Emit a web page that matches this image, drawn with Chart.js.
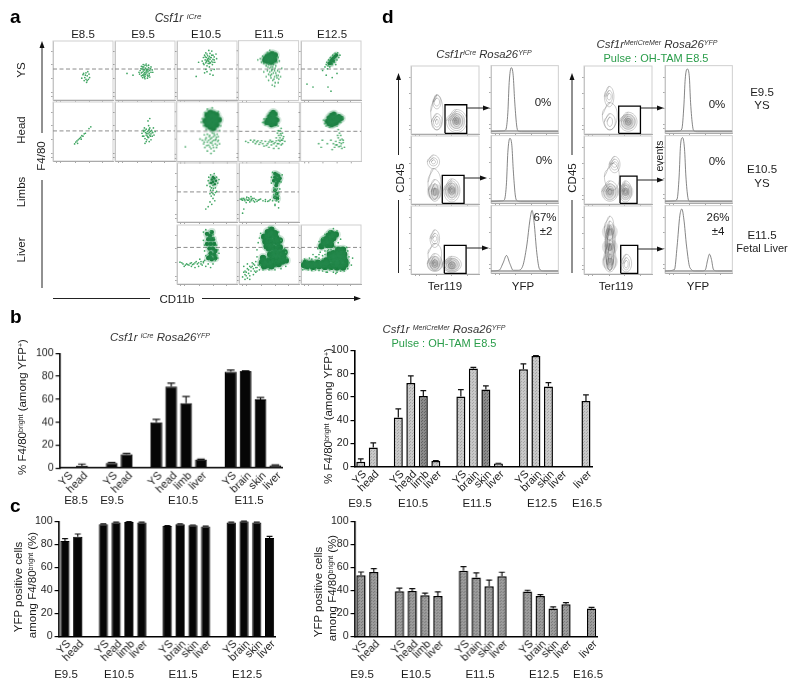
<!DOCTYPE html>
<html>
<head>
<meta charset="utf-8">
<title>Csf1r lineage tracing</title>
<script src="https://cdn.jsdelivr.net/npm/chart.js@4/dist/chart.umd.min.js"></script>
<style>
  html, body { margin: 0; background: #fff; }
  #page { position: relative; width: 800px; height: 689px; overflow: hidden; }
  #page canvas { position: absolute; }
  #notes { position: absolute; left: 0; top: 0; pointer-events: none; font-family: "Liberation Sans", Arial, sans-serif; fill: #1c1c1c; }
  #notes line { stroke: #222; stroke-width: 1; }
  #notes polygon { fill: #111; stroke: none; }
  .big { font-size: 19px; font-weight: bold; fill: #000; }
  .lab { font-size: 11.5px; text-anchor: middle; }
  .tit { font-size: 11px; text-anchor: middle; font-style: italic; fill: #333; }
  .green { font-size: 11px; text-anchor: middle; fill: #2a9d4a; }
  .sup { font-size: 7px; }
</style>
</head>
<body>
<div id="page">
<svg id="notes" width="800" height="689" style="z-index:5">
  <text class="big" x="10" y="23">a</text>
  <text class="big" x="10" y="323">b</text>
  <text class="big" x="10" y="512">c</text>
  <text class="big" x="382" y="23">d</text>

  <text class="tit" x="178" y="22" style="font-size:12px">Csf1r <tspan class="sup" dy="-3" style="font-size:8px">iCre</tspan></text>
  <text class="lab" x="83" y="38">E8.5</text>
  <text class="lab" x="143" y="38">E9.5</text>
  <text class="lab" x="206" y="38">E10.5</text>
  <text class="lab" x="269" y="38">E11.5</text>
  <text class="lab" x="332" y="38">E12.5</text>
  <text class="lab" transform="translate(25 70) rotate(-90)">YS</text>
  <text class="lab" transform="translate(25 130) rotate(-90)">Head</text>
  <text class="lab" transform="translate(25 192) rotate(-90)">Limbs</text>
  <text class="lab" transform="translate(25 250) rotate(-90)">Liver</text>
  <text class="lab" transform="translate(45 156) rotate(-90)">F4/80</text>
  <text class="lab" x="177" y="303">CD11b</text>
  <line x1="42" y1="133" x2="42" y2="46"/><polygon points="42,41 39.5,48 44.5,48"/>
  <line x1="42" y1="180" x2="42" y2="288"/>
  <line x1="53" y1="298.5" x2="150" y2="298.5"/>
  <line x1="202" y1="298.5" x2="356" y2="298.5"/><polygon points="361,298.5 354,296 354,301"/>

  <text class="tit" x="160" y="341" style="font-size:11.5px">Csf1r <tspan class="sup" dy="-3">iCre</tspan><tspan dy="3">  Rosa26</tspan><tspan class="sup" dy="-3">YFP</tspan></text>
  <text class="tit" x="444" y="333" style="font-size:11.3px">Csf1r <tspan class="sup" dy="-3">MeriCreMer</tspan><tspan dy="3"> Rosa26</tspan><tspan class="sup" dy="-3">YFP</tspan></text>
  <text class="green" x="444" y="347">Pulse : OH-TAM E8.5</text>
  <text class="lab" transform="translate(26 407) rotate(-90)">% F4/80<tspan class="sup" dy="-3">bright</tspan><tspan dy="3"> (among YFP</tspan><tspan class="sup" dy="-3">+</tspan><tspan dy="3">)</tspan></text>
  <text class="lab" transform="translate(332 416) rotate(-90)">% F4/80<tspan class="sup" dy="-3">bright</tspan><tspan dy="3"> (among YFP</tspan><tspan class="sup" dy="-3">+</tspan><tspan dy="3">)</tspan></text>
  <text class="lab" x="76" y="504">E8.5</text>
  <text class="lab" x="112" y="504">E9.5</text>
  <text class="lab" x="183" y="504">E10.5</text>
  <text class="lab" x="249" y="504">E11.5</text>
  <text class="lab" x="360" y="507">E9.5</text>
  <text class="lab" x="413" y="507">E10.5</text>
  <text class="lab" x="477" y="507">E11.5</text>
  <text class="lab" x="542" y="507">E12.5</text>
  <text class="lab" x="587" y="507">E16.5</text>

  <text class="lab" transform="translate(22 587) rotate(-90)">YFP positive cells</text>
  <text class="lab" transform="translate(36 585) rotate(-90)">among  F4/80<tspan class="sup" dy="-3">bright</tspan><tspan dy="3"> (%)</tspan></text>
  <text class="lab" transform="translate(322 592) rotate(-90)">YFP positive cells</text>
  <text class="lab" transform="translate(336 588) rotate(-90)">among  F4/80<tspan class="sup" dy="-3">bright</tspan><tspan dy="3"> (%)</tspan></text>
  <text class="lab" x="66" y="678">E9.5</text>
  <text class="lab" x="119" y="678">E10.5</text>
  <text class="lab" x="183" y="678">E11.5</text>
  <text class="lab" x="247" y="678">E12.5</text>
  <text class="lab" x="362" y="678">E9.5</text>
  <text class="lab" x="416" y="678">E10.5</text>
  <text class="lab" x="480" y="678">E11.5</text>
  <text class="lab" x="544" y="678">E12.5</text>
  <text class="lab" x="588" y="678">E16.5</text>

  <text class="tit" x="484" y="58" style="font-size:11.3px">Csf1r<tspan class="sup" dy="-3">iCre</tspan><tspan dy="3"> Rosa26</tspan><tspan class="sup" dy="-3">YFP</tspan></text>
  <text class="tit" x="657" y="48" style="font-size:11.5px">Csf1r<tspan class="sup" dy="-3">MeriCreMer</tspan><tspan dy="3"> Rosa26</tspan><tspan class="sup" dy="-3">YFP</tspan></text>
  <text class="green" x="656" y="62">Pulse : OH-TAM E8.5</text>

  <line x1="398.5" y1="155" x2="398.5" y2="78"/><polygon points="398.5,73 396,80 401,80"/>
  <line x1="398.5" y1="200" x2="398.5" y2="273"/>
  <line x1="572" y1="155" x2="572" y2="78"/><polygon points="572,73 569.5,80 574.5,80"/>
  <line x1="572" y1="200" x2="572" y2="273"/>
  <text class="lab" transform="translate(404 178) rotate(-90)">CD45</text>
  <text class="lab" transform="translate(576 178) rotate(-90)">CD45</text>
  <text class="lab" transform="translate(663 156) rotate(-90)" style="font-size:10.5px">events</text>
  <text class="lab" x="445" y="290">Ter119</text>
  <text class="lab" x="523" y="290">YFP</text>
  <text class="lab" x="616" y="290">Ter119</text>
  <text class="lab" x="698" y="290">YFP</text>
  <text class="lab" x="543" y="106">0%</text>
  <text class="lab" x="544" y="164">0%</text>
  <text class="lab" x="545" y="221">67%</text>
  <text class="lab" x="546" y="235">±2</text>
  <text class="lab" x="717" y="108">0%</text>
  <text class="lab" x="717" y="165">0%</text>
  <text class="lab" x="718" y="221">26%</text>
  <text class="lab" x="718" y="235">±4</text>
  <text class="lab" x="762" y="96">E9.5</text>
  <text class="lab" x="762" y="109">YS</text>
  <text class="lab" x="762" y="173">E10.5</text>
  <text class="lab" x="762" y="187">YS</text>
  <text class="lab" x="762" y="239">E11.5</text>
  <text class="lab" x="762" y="252" style="font-size:11px">Fetal Liver</text>

  <line x1="467" y1="108" x2="485" y2="108"/><polygon points="490,108 483,105.5 483,110.5"/>
  <line x1="464" y1="178" x2="482" y2="178"/><polygon points="487,178 480,175.5 480,180.5"/>
  <line x1="466" y1="248" x2="484" y2="248"/><polygon points="489,248 482,245.5 482,250.5"/>
  <line x1="641" y1="108" x2="659" y2="108"/><polygon points="664,108 657,105.5 657,110.5"/>
  <line x1="637" y1="180" x2="659" y2="180"/><polygon points="664,180 657,177.5 657,182.5"/>
  <line x1="638" y1="249" x2="659" y2="249"/><polygon points="664,249 657,246.5 657,251.5"/>
</svg>
</div>
<script>
// bar panels, null = gap between the age groups
const labelsBLeft = ['YS','head','','YS','head','','YS','head','limb','liver','','YS','brain','skin','liver']
const valuesBLeft = [0,2,null,4.5,12,null,40,71,56.5,7.5,null,84,84.5,60,2.5]
const errorsBLeft = [0,1.5,null,0.4,0.8,null,2.5,3,6,0.3,null,1.5,0.3,1.5,0.3]

const labelsBRight = ['YS','head','','YS','head','limb','liver','','YS','brain','skin','liver','','YS','brain','skin','liver','','liver']
const valuesBRight = [4.3,16.6,null,42.3,72,60.9,5.1,null,60.3,84.3,66.3,2.9,null,83.7,95.1,68.9,0,null,56.6]
const errorsBRight = [2.6,4,null,7.4,6,4.5,0.2,null,6,1.1,3.1,0.2,null,4.6,0.4,3.4,0,null,5.1]

const labelsCLeft = ['YS','head','','YS','head','limb','liver','','YS','brain','skin','liver','','YS','brain','skin','liver']
const valuesCLeft = [83,86.5,null,97.5,99,99.5,99,null,96,97.5,96.5,95.5,null,99,100,99,85.5]
const errorsCLeft = [2,2.5,null,0.3,0.2,0.2,0.2,null,0.3,0.3,0.3,0.3,null,0.2,0.1,0.2,1.5]

const labelsCRight = labelsBRight
const valuesCRight = [53.2,56,null,39.3,39.6,35.8,35.3,null,57,51.2,43.6,52.3,null,39,35.3,24.3,28,null,24.3]
const errorsCRight = [2.8,3,null,2.7,2,1.8,3.4,null,3.7,4,5.4,3.5,null,1.2,1.1,1.4,1.5,null,1.1]

// flow cytometry clouds, x,y pairs in percent of the panel
const gateLevels = { ys: 52.5, head: 51, limbs: 51, liver: 62 }
const flowTicks = [6,13,37,60,83]

const ysE85 = [50,43,53,38,55,46,57,41,59,35,52,33,56,30,60,44,48,37,54,42,58,48,61,38,55,35,51,45,57,33]
const ysE95 = [42,50,44,46,45,53,46,42,47,49,48,56,48,44,49,51,50,47,50,40,51,54,51,44,52,49,53,58,53,46,54,42,54,52,55,48,56,55,57,45,58,50,59,53,60,47,46,38,50,36,62,51,44,57,41,44,47,60,52,61,56,59,55,40,20,45,30,42,47,52,49,46,52,52,50,43,53,50,45,47,43,53,46,56,48,41,50,59,55,51,57,42,60,56,63,47,40,47,44,41,49,38,54,37,58,39]
const ysE105 = [42,66,44,72,45,60,46,76,47,68,48,63,48,80,49,72,50,58,50,67,51,75,52,62,52,70,53,84,53,66,54,74,54,56,55,69,55,79,56,63,57,72,58,66,58,83,59,60,60,76,60,69,62,73,63,64,65,78,66,70,46,46,50,48,55,44,57,50,60,42,62,52,36,64,32,40,48,52,44,62,47,73,50,78,52,66,54,62,56,72,58,76,60,64,62,68,49,65,53,71,55,64,51,69]
const ysE115Dense = [45,70,48,74,50,68,52,76,54,70,56,66,56,78,58,72,60,68,50,72,54,64,61,76,48,66,44,67]
const ysE115 = [32,68,36,70,38,64,40,74,42,62,46,58,48,80,50,60,52,84,54,56,56,52,58,60,60,50,62,58,64,64,66,72,68,66,48,50,50,44,52,48,54,38,55,44,57,34,58,46,60,40,61,30,62,46,64,38,65,50,66,42,68,48,70,40,72,54,50,34,56,26,60,24,66,30,46,40,42,48,53,42,55,50,59,36,63,42,67,36,61,54,57,56,52,54,49,56]
const ysE125Dense = [47,62,50,66,52,69,54,71,57,74,59,76,50,62,54,66]
const ysE125 = [40,56,42,60,43,64,45,58,46,68,48,56,49,72,52,60,53,76,56,64,57,79,60,68,61,80,63,72,65,76,44,53,58,60,10,27,20,22,50,15,45,22,52,38,42,42,60,45,36,50]

const headE85 = [38,32,40,34,42,36,44,38,46,40,48,43,50,42,52,46,54,47,60,55,63,58,36,29,41,30,47,37]
const headE95 = [45,47,47,52,48,42,49,56,50,38,51,48,52,44,52,54,53,36,54,50,54,42,55,46,56,60,56,52,56,40,57,33,57,48,58,44,58,56,59,50,60,36,60,46,61,52,62,42,63,48,64,56,65,44,67,50,55,68,58,72,50,30,48,50,46,42,50,52,53,47,55,40,57,54,59,42,62,49,52,33]
const headE105Dense = [50,62,50,70,50,78,55,58,55,66,55,74,55,82,60,56,60,64,60,72,60,80,65,62,65,70,65,78,69,70,47,68]
const headE105 = [40,66,42,72,44,60,46,82,48,54,50,88,58,90,68,84,72,60,70,52,45,45,48,40,50,46,52,36,52,28,54,44,55,32,56,22,57,40,58,48,59,28,60,36,61,18,62,44,63,30,64,38,65,24,66,46,67,34,68,42,70,30,44,30,46,24,50,18,56,14,38,38,14,25,60,42,58,34,55,38,53,42,50,33,47,37,49,27,54,25,57,31,60,24,63,36,66,28,68,36,42,36,45,33,61,47,65,41]
const headE115Dense = [48,70,51,66,51,76,54,62,54,72,54,80,57,66,57,74,57,83,60,64,60,72,60,80,63,70,46,66]
const headE115 = [40,66,42,72,44,62,65,60,68,52,70,56,72,48,70,44,68,40,66,36,72,36,74,42,76,34,64,30,60,32,56,34,52,36,48,30,44,34,40,30,36,32,32,35,28,30,24,33,20,36,16,32,12,34,62,26,58,22,66,22,54,28,70,28,50,24,42,26,72,30,64,48,66,44,62,40,68,34,62,35,58,30,54,33,50,33,46,27,38,35,34,29,30,33,26,36,70,36,66,30,65,52,69,47,73,39]
const headE125Dense = [44,68,47,64,47,74,51,62,51,70,51,78,55,64,55,72,55,80,59,66,59,74,63,70,63,76,67,73]
const headE125 = [40,64,38,70,42,60,48,58,66,66,70,74,60,60,62,54,64,48,66,44,68,38,70,32,62,40,58,34,60,28,66,26,72,24,56,24,36,36,30,30,34,24,44,30,50,36,54,30,64,32,68,22,52,20,65,36,61,44,67,30,58,28,63,25,70,36]

const limbsE105Dense = [57,66,58,72,60,68,62,74,63,64,65,70,60,76]
const limbsE105 = [50,62,52,70,53,76,54,66,55,60,56,80,58,58,60,62,62,82,64,58,66,76,68,66,70,72,56,54,58,50,60,54,62,46,64,50,57,44,60,40,63,36,55,34,58,30,52,26,48,22,66,52,60,48,55,48,61,57,57,58]
const limbsE115Dense = [58,70,60,76,60,82,63,66,63,72,63,80,66,70,66,78,68,74,62,62,60,54,63,48,60,42,64,40]
const limbsE115 = [54,66,54,76,56,84,70,68,72,80,58,58,60,54,62,48,64,56,66,44,60,42,62,36,64,38,66,50,68,56,58,46,66,34,60,30,56,36,52,38,48,35,44,38,40,36,36,39,32,37,28,38,24,36,22,40,20,36,18,34,16,41,14,37,12,39,10,36,8,40,6,37,4,38,2,39,20,43,26,34,12,33,6,15,8,22,60,28,66,24,16,37,13,42,9,38,5,40,18,39,21,38,25,40,30,35,34,38,44,35,50,36]

const liverE105Dense = [50,85,55,82,52,76,57,76,50,68,56,68,62,68,54,60,60,60,64,56,56,52,62,50,52,44,58,42,58,88,60,76,55,46,64,44]
const liverE105 = [44,88,48,92,56,90,60,84,62,78,44,74,46,66,66,66,46,56,68,58,48,48,66,48,46,40,64,40,44,36,60,34,52,34,40,38,36,36,32,38,28,34,24,36,20,32,16,34,12,30,8,36,5,37,36,30,42,32,30,28,48,30,56,28,70,52,68,44,38,42,24,30,34,34,30,36,26,33,22,35,18,33,14,32,10,34,44,38,40,34]
const liverE115Dense = [42,80,48,88,54,92,60,86,44,72,50,78,56,82,62,78,46,64,52,70,58,72,64,70,50,60,56,62,62,60,68,62,58,52,64,52,70,52,74,46,68,44,62,42,56,44,50,40,44,38,58,34,66,34,72,38,38,36,48,32,52,50,76,54,50,84,68,74,40,44,62,50,78,40,42,30,54,30]
const liverE115 = [30,58,32,70,34,78,36,86,30,46,28,38,26,32,24,26,22,36,20,22,18,30,16,18,14,26,12,14,10,22,8,30,6,12,34,24,28,20,24,16,40,24,50,24,60,24,70,26,78,30,80,44,78,54,76,60,70,74,66,88,50,96,14,34,18,8,10,8,8,20,30,28,36,32,12,20,16,24,20,28,24,34,28,28,32,32,18,14,14,10,22,30,10,16,26,22,30,22]
const liverE125Dense = [5,32,10,30,15,34,20,29,25,33,30,30,35,34,40,29,45,33,50,29,55,33,60,28,65,33,70,28,74,33,42,40,48,42,54,42,60,42,66,42,72,42,48,50,54,52,60,52,66,52,72,50,62,58,70,58,34,64,38,70,42,76,46,82,50,74,54,78,58,84,44,66,50,66,8,36,18,35,28,36,38,36,74,38,64,36,56,37,68,48,60,47,52,46,38,74,50,86]
const liverE125 = [3,24,6,26,12,24,18,23,24,24,30,23,36,22,42,20,48,24,54,20,60,20,66,22,72,22,78,26,80,36,80,46,78,56,76,62,18,42,24,40,30,44,36,48,32,54,28,60,40,56,46,58,56,64,62,70,66,76,60,90,54,94,48,90,40,84,36,78,30,72,84,32,10,40,6,42,20,50,86,44,14,44,26,46,36,42,40,50,44,56,50,58,58,62,30,50,24,46,44,20,58,18]

// contour rings for panel d: left,top,right,bottom points of each ring
const contourIcreE95 = [[29,33,38,58,47,33,38,6],[32,47,38,57,44,47,38,37],[34,47,38,53,42,47,38,41],[30,18,38,30,46,18,38,6],[33,18,38,26,43,18,38,10],[36,18,38,22,40,18,38,14],[52,19,67,36,82,19,67,2],[55,19,67,33,79,19,67,5],[58,19,67,30,76,19,67,8],[61,19,67,27,73,19,67,11],[64,19,67,24,70,19,67,14],[66,19,67,21,68,19,67,16]]
const contourIcreE105 = [[24,62,33,72,42,62,33,52],[27,62,33,68,39,62,33,56],[30,62,33,65,36,62,33,59],[25,32,33,52,44,32,33,6],[26,20,35,36,44,20,35,4],[30,18,35,30,40,18,35,7],[33,18,35,24,37,18,35,12],[48,20,60,37,72,20,60,3],[51,20,60,34,69,20,60,6],[54,20,60,31,66,20,60,9],[56,20,60,27,64,20,60,13],[58,20,60,23,62,20,60,17]]
const contourIcreE115 = [[28,52,35,65,42,52,35,39],[30,52,35,60,40,52,35,44],[32,52,35,56,38,52,35,48],[25,30,35,45,45,30,35,5],[24,15,35,30,46,15,35,4],[28,15,35,26,42,15,35,7],[31,15,35,22,39,15,35,9],[33,15,35,18,37,15,35,12],[46,14,60,26,74,14,60,3],[49,14,60,23,71,14,60,5],[52,14,60,21,68,14,60,7],[55,13,60,18,65,13,60,8],[58,13,60,15,62,13,60,10]]
const contourMerE95 = [[30,55,37,70,44,55,37,40],[32,55,37,64,42,55,37,46],[34,55,37,60,40,55,37,50],[27,28,38,46,49,28,38,6],[30,18,38,30,46,18,38,6],[34,18,38,25,42,18,38,11],[52,18,65,32,78,18,65,4],[55,18,65,29,75,18,65,7],[58,18,65,26,72,18,65,10],[61,18,65,23,69,18,65,13],[63,18,65,20,67,18,65,16]]
const contourMerE105 = [[37,58,45,70,53,58,45,46],[39,58,45,66,51,58,45,50],[41,58,45,62,49,58,45,54],[30,40,42,60,52,40,42,20],[26,18,38,34,50,18,38,4],[29,18,38,30,47,18,38,6],[32,18,38,26,44,18,38,10],[35,18,38,22,41,18,38,14],[52,18,61,34,70,18,61,3],[54,18,61,31,68,18,61,6],[56,18,61,28,66,18,61,9],[58,18,61,24,64,18,61,12],[59,18,61,21,63,18,61,15]]
const contourMerE115 = [[30,68,38,85,44,68,38,50],[31,50,38,78,46,50,38,22],[29,20,38,50,47,20,38,3],[31,40,38,72,45,40,38,10],[32,30,38,66,44,30,38,6],[33,18,38,44,43,18,38,5],[34,50,38,70,42,50,38,34],[35,14,38,30,41,14,38,5],[36,30,38,45,40,30,38,16],[54,15,62,29,70,15,62,3],[57,15,62,24,67,15,62,6],[59,15,62,20,65,15,62,9]]

// darkest part of each contour plot
const coreIcreE95 = [67,19]
const coreIcreE105 = [60,20,35,18]
const coreIcreE115 = [60,13,35,15]
const coreMerE95 = [65,18]
const coreMerE105 = [61,18,38,18]
const coreMerE115 = [38,40,38,18,38,62]

const gateIcreE95 = [50,1,50,43,82,43,82,1,50,1]
const gateIcreE105 = [46,1,46,42,78,42,78,1,46,1]
const gateIcreE115 = [49,1,49,42,81,42,81,1,49,1]
const gateMerE95 = [51,1,51,41,83,41,83,1,51,1]
const gateMerE105 = [53,1,53,41,78,41,78,1,53,1]
const gateMerE115 = [54,1,54,42,79,42,79,1,54,1]

// YFP histograms, x and events in percent of the panel
const histIcreE95 = [0,2,18,3,22,5,25,30,27,75,30,97,33,85,35,50,38,12,40,3,45,2,100,2]
const histIcreE105 = [0,2,16,3,20,5,23,30,25,75,28,96,31,85,33,50,36,12,38,4,44,2,100,2]
const histIcreE115 = [0,3,12,4,18,15,23,26,28,14,33,4,40,4,47,10,53,40,58,80,61,93,64,75,68,30,72,6,78,3,100,3]
const histMerE95 = [0,2,21,3,25,6,28,40,30,80,33,95,36,85,38,45,41,10,43,3,48,2,100,2]
const histMerE105 = [0,2,14,3,18,6,21,40,23,85,26,97,29,80,31,40,34,8,37,2,100,2]
const histMerE115 = [0,3,14,5,18,40,22,85,25,95,28,80,32,40,37,8,45,3,55,3,60,5,63,18,66,28,69,20,72,5,78,3,100,3]

const page = document.getElementById('page')
const pairs = flat => {
  const out = []
  for (let i = 0; i < flat.length; i += 2) out.push({ x: flat[i], y: flat[i + 1] })
  return out
}

// hatched grey fill of the tamoxifen bars
function hatch(base, dot) {
  const c = document.createElement('canvas')
  c.width = c.height = 3
  const g = c.getContext('2d')
  g.fillStyle = base
  g.fillRect(0, 0, 3, 3)
  g.fillStyle = dot
  g.fillRect(0, 0, 1, 1)
  g.fillRect(2, 1, 1, 1)
  return g.createPattern(c, 'repeat')
}

const errorBars = {
  id: 'errorBars',
  afterDatasetsDraw(chart) {
    const ds = chart.data.datasets[0]
    if (!ds.errors) return
    const { ctx, scales: { y } } = chart
    ctx.save()
    ctx.strokeStyle = '#111'
    ctx.lineWidth = 1.2
    chart.getDatasetMeta(0).data.forEach((bar, i) => {
      if (!ds.errors[i]) return
      const top = y.getPixelForValue(ds.data[i] + ds.errors[i])
      const cap = bar.width * 0.32
      ctx.beginPath()
      ctx.moveTo(bar.x, bar.y)
      ctx.lineTo(bar.x, top)
      ctx.moveTo(bar.x - cap, top)
      ctx.lineTo(bar.x + cap, top)
      ctx.stroke()
    })
    ctx.restore()
  },
}

const frame = {
  id: 'frame',
  beforeDatasetsDraw(chart) {
    const { ctx, chartArea: a } = chart
    ctx.save()
    ctx.strokeStyle = '#cfcfcf'
    ctx.lineWidth = 1
    ctx.strokeRect(a.left, a.top, a.width, a.height)
    ctx.restore()
  },
}

// create the chart, then move and resize the canvas so the plot area lands on the box
function build(config, box, w, h) {
  const canvas = document.createElement('canvas')
  canvas.width = w
  canvas.height = h
  page.appendChild(canvas)
  config.options = Object.assign({ responsive: false, maintainAspectRatio: false, animation: false }, config.options)
  const chart = new Chart(canvas, config)
  const a = chart.chartArea
  chart.resize(w + box.w - a.width, h + box.h - a.height)
  canvas.style.left = box.x - chart.chartArea.left + 'px'
  canvas.style.top = box.y - chart.chartArea.top + 'px'
  return chart
}

function barChart(labels, values, errors, box, barPercentage, fill, borderWidth) {
  return build({
    type: 'bar',
    data: {
      labels,
      datasets: [{
        data: values,
        errors,
        backgroundColor: fill,
        borderColor: '#000',
        borderWidth,
        barPercentage,
        categoryPercentage: 1,
      }],
    },
    options: {
      layout: { padding: 0 },
      plugins: { legend: { display: false }, tooltip: { enabled: false } },
      scales: {
        x: {
          grid: { drawOnChartArea: false, drawTicks: false },
          border: { color: '#000', width: 1.6 },
          ticks: { autoSkip: false, minRotation: 45, maxRotation: 45, padding: 1, labelOffset: 4, color: '#222', font: { family: 'Liberation Sans', size: 11 } },
        },
        y: {
          min: 0,
          max: 100,
          grid: { drawOnChartArea: false, tickLength: 4, color: '#000', lineWidth: 1.2 },
          border: { color: '#000', width: 1.6 },
          ticks: { stepSize: 20, padding: 2, color: '#222', font: { family: 'Liberation Sans', size: 10.5 } },
        },
      },
    },
    plugins: [errorBars],
  }, box, 330, 190)
}

const flowScale = edge => ({
  type: 'linear',
  min: 0,
  max: 100,
  afterBuildTicks: s => { s.ticks = flowTicks.map(value => ({ value })) },
  grid: { drawOnChartArea: false, tickLength: 2, color: '#555', lineWidth: 0.5 },
  border: { color: edge, width: 0.8 },
  ticks: { display: false },
})

function flowChart(box, datasets) {
  return build({
    type: 'scatter',
    data: { datasets: datasets.flat() },
    options: {
      layout: { padding: 0 },
      plugins: { legend: { display: false }, tooltip: { enabled: false } },
      scales: { x: flowScale('#666'), y: flowScale('#aaa') },
    },
    plugins: [frame],
  }, box, 80, 80)
}

const cloud = flat => ({ data: pairs(flat), pointRadius: 0.85, borderWidth: 0, backgroundColor: '#3fa562' })
// a soft halo under the dark core so that the clouds do not look like separate dots
const dense = (flat, pointRadius) => [
  { data: pairs(flat), pointRadius: pointRadius + 1.8, borderWidth: 0, backgroundColor: 'rgba(40,140,80,0.22)' },
  { data: pairs(flat), pointRadius, borderWidth: 0, backgroundColor: '#177a3a' },
]
const gateLine = level => ({
  data: [{ x: 0, y: level }, { x: 100, y: level }],
  showLine: true, pointRadius: 0, borderColor: '#8c8c8c', borderWidth: 1, borderDash: [4, 2.5],
})

// panel a
const colX = [53, 115, 177, 238.5, 300.5]
const rowY = { ys: 41, head: 102, limbs: 163, liver: 225 }
const cell = (col, row) => ({ x: colX[col], y: rowY[row], w: 60, h: 59 })

flowChart(cell(0, 'ys'), [cloud(ysE85), gateLine(gateLevels.ys)])
flowChart(cell(1, 'ys'), [cloud(ysE95), gateLine(gateLevels.ys)])
flowChart(cell(2, 'ys'), [cloud(ysE105), gateLine(gateLevels.ys)])
flowChart(cell(3, 'ys'), [cloud(ysE115), dense(ysE115Dense, 2.8), gateLine(gateLevels.ys)])
flowChart(cell(4, 'ys'), [cloud(ysE125), dense(ysE125Dense, 1.8), gateLine(gateLevels.ys)])
flowChart(cell(0, 'head'), [cloud(headE85), gateLine(gateLevels.head)])
flowChart(cell(1, 'head'), [cloud(headE95), gateLine(gateLevels.head)])
flowChart(cell(2, 'head'), [cloud(headE105), dense(headE105Dense, 3), gateLine(gateLevels.head)])
flowChart(cell(3, 'head'), [cloud(headE115), dense(headE115Dense, 2.6), gateLine(gateLevels.head)])
flowChart(cell(4, 'head'), [cloud(headE125), dense(headE125Dense, 2.6), gateLine(gateLevels.head)])
flowChart(cell(2, 'limbs'), [cloud(limbsE105), dense(limbsE105Dense, 1.3), gateLine(gateLevels.limbs)])
flowChart(cell(3, 'limbs'), [cloud(limbsE115), dense(limbsE115Dense, 1.9), gateLine(gateLevels.limbs)])
flowChart(cell(2, 'liver'), [cloud(liverE105), dense(liverE105Dense, 2.2), gateLine(gateLevels.liver)])
flowChart(cell(3, 'liver'), [cloud(liverE115), dense(liverE115Dense, 3.2), gateLine(gateLevels.liver)])
flowChart(cell(4, 'liver'), [cloud(liverE125), dense(liverE125Dense, 3.2), gateLine(gateLevels.liver)])

// panel b and c
const lightFill = hatch('#c8c8c8', '#a6a6a6')
const darkFill = hatch('#8a8a8a', '#636363')
const midFill = hatch('#9c9c9c', '#787878')
barChart(labelsBLeft, valuesBLeft, errorsBLeft, { x: 59.5, y: 353, w: 225, h: 114 }, 0.8, '#060606', 1)
barChart(labelsBRight, valuesBRight, errorsBRight, { x: 354.4, y: 350, w: 239.4, h: 116.6 }, 0.72,
  ctx => (ctx.dataIndex === 5 || ctx.dataIndex === 10 ? darkFill : lightFill), 1.5)
barChart(labelsCLeft, valuesCLeft, errorsCLeft, { x: 59, y: 521, w: 219, h: 115.3 }, 0.72, '#060606', 1)
barChart(labelsCRight, valuesCRight, errorsCRight, { x: 355, y: 521, w: 244, h: 115.3 }, 0.72, midFill, 1.5)

// panel d
const ring = flat => ({
  data: pairs(flat.concat(flat.slice(0, 4))),
  showLine: true, pointRadius: 0, tension: 0.55, borderColor: 'rgba(90,90,90,0.5)', borderWidth: 0.6,
})
const core = flat => [
  { data: pairs(flat), pointRadius: 8, borderWidth: 0, backgroundColor: 'rgba(110,110,110,0.2)' },
  { data: pairs(flat), pointRadius: 4, borderWidth: 0, backgroundColor: 'rgba(80,80,80,0.3)' },
]
const gate = flat => ({ data: pairs(flat), showLine: true, pointRadius: 0, borderColor: '#000', borderWidth: 1.3 })
const curve = flat => ({ data: pairs(flat), showLine: true, pointRadius: 0, cubicInterpolationMode: 'monotone', borderColor: '#666', borderWidth: 0.8 })
const base = { data: pairs([0, 3, 100, 3]), showLine: true, pointRadius: 0, borderColor: '#9a9a9a', borderWidth: 1.3 }

const dRows = [66, 136, 206]
const contourPanels = [
  [411, [contourIcreE95, contourIcreE105, contourIcreE115], [coreIcreE95, coreIcreE105, coreIcreE115], [gateIcreE95, gateIcreE105, gateIcreE115]],
  [584, [contourMerE95, contourMerE105, contourMerE115], [coreMerE95, coreMerE105, coreMerE115], [gateMerE95, gateMerE105, gateMerE115]],
]
contourPanels.forEach(([x, contours, cores, gates]) => {
  dRows.forEach((y, i) => {
    flowChart({ x, y, w: 68, h: 68 }, [core(cores[i]), contours[i].map(ring), gate(gates[i])])
  })
})
const histPanels = [
  [491, [histIcreE95, histIcreE105, histIcreE115]],
  [665, [histMerE95, histMerE105, histMerE115]],
]
histPanels.forEach(([x, hists]) => {
  dRows.forEach((y, i) => {
    flowChart({ x, y, w: 68, h: 68 }, [base, curve(hists[i])])
  })
})
</script>
</body>
</html>
